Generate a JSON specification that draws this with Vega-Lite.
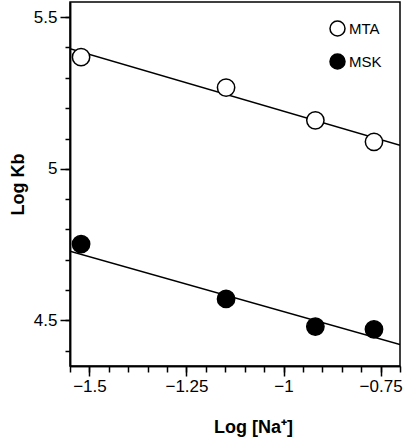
{
  "$schema": "https://vega.github.io/schema/vega-lite/v6.json",
  "width": 330,
  "height": 364,
  "autosize": "none",
  "padding": {"left": 70, "top": 2, "right": 4, "bottom": 72},
  "background": "white",
  "config": {
    "view": {"stroke": "black", "strokeWidth": 1.5},
    "font": "Liberation Sans",
    "axis": {"grid": false, "domainColor": "black", "labelColor": "black", "titleColor": "black", "domainWidth": 1.5, "labelOverlap": false, "labelFontSize": 17}
  },
  "datasets": {
    "pts": [
      {"series": "MTA", "x": -1.5215, "y": 5.368},
      {"series": "MTA", "x": -1.148, "y": 5.268},
      {"series": "MTA", "x": -0.918, "y": 5.160},
      {"series": "MTA", "x": -0.767, "y": 5.089},
      {"series": "MSK", "x": -1.5215, "y": 4.752},
      {"series": "MSK", "x": -1.148, "y": 4.571},
      {"series": "MSK", "x": -0.918, "y": 4.480},
      {"series": "MSK", "x": -0.767, "y": 4.471}
    ],
    "fits": [
      {"series": "MTA", "x": -1.55, "y": 5.396},
      {"series": "MTA", "x": -0.70, "y": 5.078},
      {"series": "MSK", "x": -1.55, "y": 4.728},
      {"series": "MSK", "x": -0.70, "y": 4.421}
    ]
  },
  "resolve": {"axis": {"x": "independent", "y": "independent"}},
  "layer": [
    {
      "data": {"name": "fits"},
      "mark": {"type": "line", "color": "black", "strokeWidth": 1.5, "clip": true},
      "encoding": {
        "x": {
          "field": "x", "type": "quantitative",
          "scale": {"domain": [-1.55, -0.70], "nice": false, "zero": false},
          "axis": {
            "orient": "bottom", "title": null, "labels": false, "ticks": true, "tickSize": 6, "tickColor": "black", "tickWidth": 1.5,
            "values": [-1.55, -1.5, -1.45, -1.4, -1.35, -1.3, -1.25, -1.2, -1.15, -1.1, -1.05, -1.0, -0.95, -0.9, -0.85, -0.8, -0.75, -0.7]
          }
        },
        "y": {
          "field": "y", "type": "quantitative",
          "scale": {"domain": [4.35, 5.55], "nice": false, "zero": false},
          "axis": {
            "orient": "left", "title": null, "labels": false, "ticks": true, "tickSize": 5, "tickColor": "black", "tickWidth": 1.5,
            "values": [4.4, 4.5, 4.6, 4.7, 4.8, 4.9, 5.0, 5.1, 5.2, 5.3, 5.4, 5.5]
          }
        },
        "detail": {"field": "series"}
      }
    },
    {
      "data": {"name": "pts"},
      "mark": {"type": "circle", "size": 300, "stroke": "black", "strokeWidth": 1.5, "opacity": 1},
      "encoding": {
        "x": {
          "field": "x", "type": "quantitative",
          "axis": {
            "orient": "bottom",
            "title": "Log [Na⁺]",
            "titleFontSize": 18, "titleFontWeight": "bold", "titlePadding": 24, "titleX": 183,
            "values": [-1.5, -1.25, -1.0, -0.75],
            "format": ".3~g",
            "labelFontSize": 17, "labelPadding": 2, "ticks": true, "tickSize": 10, "tickColor": "black", "tickWidth": 1.5
          }
        },
        "y": {
          "field": "y", "type": "quantitative",
          "axis": {
            "orient": "left",
            "title": "Log Kb",
            "titleFontSize": 18, "titleFontWeight": "bold", "titlePadding": 6,
            "values": [4.5, 5.0, 5.5],
            "format": ".3~g",
            "labelFontSize": 17, "labelPadding": 3, "ticks": true, "tickSize": 10, "tickColor": "black", "tickWidth": 1.5
          }
        },
        "fill": {
          "field": "series", "type": "nominal",
          "scale": {"domain": ["MTA", "MSK"], "range": ["white", "black"]},
          "legend": {
            "title": null, "orient": "none", "legendX": 259, "legendY": 18,
            "symbolType": "circle", "symbolSize": 225, "symbolStrokeColor": "black", "symbolStrokeWidth": 1.5,
            "labelFontSize": 15, "labelColor": "black", "labelOffset": 3, "rowPadding": 12, "padding": 0
          }
        }
      }
    }
  ]
}
